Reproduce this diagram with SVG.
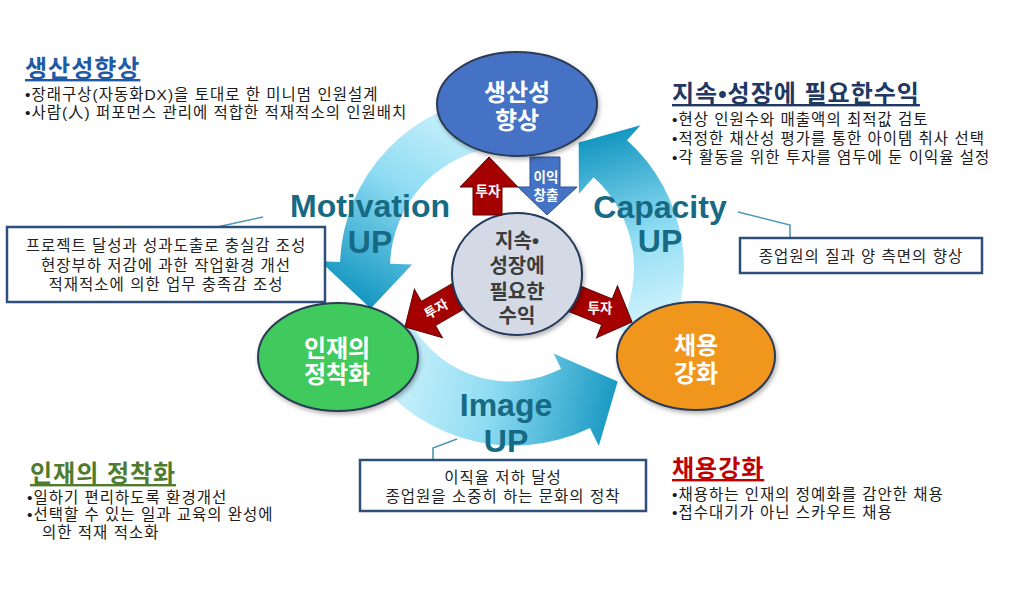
<svg xmlns="http://www.w3.org/2000/svg" width="1024" height="589" viewBox="0 0 1024 589">
<defs>
<style>
.kr{font-family:"Liberation Sans","Noto Sans CJK KR",sans-serif;}
.head{font-size:24px;font-weight:bold;text-decoration:underline;letter-spacing:1px;}
.bul{font-size:15.5px;fill:#1a1a1a;letter-spacing:1px;}
.box{fill:#fff;stroke:#2e4f7a;stroke-width:2.5;}
.boxt{font-size:15.5px;fill:#222;text-anchor:middle;letter-spacing:1px;}
.call{fill:none;stroke:#4f97b6;stroke-width:1.6;}
.lbl{font-family:"Liberation Sans",sans-serif;font-weight:bold;font-size:32px;fill:#176a84;text-anchor:middle;}
.node{stroke:#2c3a55;stroke-width:2;filter:url(#sh);}
.nt{font-size:24px;font-weight:bold;fill:#fff;text-anchor:middle;}
.ct{font-size:20px;font-weight:bold;fill:#3c3c3c;text-anchor:middle;}
.red{fill:#a40000;stroke:#5c0000;stroke-width:1;}
.blu{fill:#4472c4;stroke:#2f4f8f;stroke-width:1;}
.at{font-size:13.5px;font-weight:bold;fill:#fff;text-anchor:middle;}
</style>
<filter id="sh" x="-20%" y="-20%" width="140%" height="150%">
<feDropShadow dx="1.5" dy="2.5" stdDeviation="2" flood-color="#000" flood-opacity="0.3"/>
</filter>
<linearGradient id="gM" gradientUnits="userSpaceOnUse" x1="480" y1="95" x2="360" y2="300">
<stop offset="0" stop-color="#dcf7fe"/><stop offset="0.5" stop-color="#8fdcf3"/><stop offset="1" stop-color="#1597c1"/>
</linearGradient>
<linearGradient id="gC" gradientUnits="userSpaceOnUse" x1="650" y1="340" x2="590" y2="140">
<stop offset="0" stop-color="#dcf7fe"/><stop offset="0.5" stop-color="#8fdcf3"/><stop offset="1" stop-color="#1597c1"/>
</linearGradient>
<linearGradient id="gI" gradientUnits="userSpaceOnUse" x1="370" y1="350" x2="620" y2="400">
<stop offset="0" stop-color="#dcf7fe"/><stop offset="0.5" stop-color="#8fdcf3"/><stop offset="1" stop-color="#1597c1"/>
</linearGradient>
</defs>
<rect width="1024" height="589" fill="#fff"/>

<g id="connectors">
<path id="arrow-motivation" fill="url(#gM)" d="M497,96.7 A172,172 0 0 0 340.1,262 L320.1,261.3 L370.7,308.5 L412.1,264.5 L390.1,263.7 A122,122 0 0 1 501.4,146.5 Z"/>
<path id="arrow-capacity" fill="url(#gC)" d="M660.9,354 A172,172 0 0 0 627.1,140.2 L640.5,125.3 L578.7,142.6 L578.9,193.7 L593.6,177.3 A122,122 0 0 1 617.7,329 Z"/>
<path id="arrow-image" fill="url(#gI)" d="M360.4,355.5 A175,175 0 0 0 590,428 L598.8,446 L617.7,381.4 L553.6,353.4 L561.1,368.7 A112,112 0 0 1 412.4,325.5 Z"/>
<polyline class="call" points="217,227 263,217"/>
<polyline class="call" points="738,212 790,225 790,238"/>
<polyline class="call" points="457,439 433,448 433,460"/>
<g id="invest-left">
<polygon class="red" transform="translate(405,327) rotate(150)" points="-68,-14 -27,-14 -27,-28 0,0 -27,28 -27,14 -68,14"/>
<text class="kr at" transform="translate(436,309) rotate(-30)" x="0" y="5">투자</text>
</g>
<g id="invest-right">
<polygon class="red" transform="translate(632,322) rotate(22)" points="-68,-14 -27,-14 -27,-28 0,0 -27,28 -27,14 -68,14"/>
<text class="kr at" x="600" y="313">투자</text>
</g>
</g>

<g id="node-center">
<ellipse cx="517" cy="274" rx="65" ry="61" fill="#d3dae5" stroke="#24375a" stroke-width="2" filter="url(#sh)"/>
<text class="kr ct" x="517" y="248">지속•</text>
<text class="kr ct" x="517" y="273">성장에</text>
<text class="kr ct" x="517" y="299">필요한</text>
<text class="kr ct" x="517" y="323">수익</text>
</g>

<g id="invest-up">
<polygon class="red" points="489,157 518,187 502,187 502,215 473,215 473,187 460,187"/>
<text class="kr at" x="488" y="196">투자</text>
</g>
<g id="profit-down">
<polygon class="blu" points="530,157 560,157 560,187 577,187 547,215 518,187 530,187"/>
<text class="kr at" x="546" y="182">이익</text>
<text class="kr at" x="546" y="200">창출</text>
</g>

<g id="node-productivity">
<ellipse class="node" cx="517" cy="104" rx="80" ry="52" fill="#4472c4"/>
<text class="kr nt" x="517" y="101">생산성</text>
<text class="kr nt" x="517" y="129">향상</text>
</g>
<g id="node-retention">
<ellipse class="node" cx="338" cy="357" rx="80" ry="54" fill="#40c95c"/>
<text class="kr nt" x="337" y="357">인재의</text>
<text class="kr nt" x="337" y="383">정착화</text>
</g>
<g id="node-recruit">
<ellipse class="node" cx="696" cy="356" rx="79" ry="54" fill="#f0961e"/>
<text class="kr nt" x="696" y="354">채용</text>
<text class="kr nt" x="696" y="382">강화</text>
</g>

<g id="labels">
<text class="lbl" x="370" y="217">Motivation</text>
<text class="lbl" x="370" y="253">UP</text>
<text class="lbl" x="660" y="218">Capacity</text>
<text class="lbl" x="660" y="252">UP</text>
<text class="lbl" x="506" y="416">Image</text>
<text class="lbl" x="506" y="452">UP</text>
</g>

<g id="box-motivation">
<rect class="box" x="7" y="227" width="318" height="75"/>
<text class="kr boxt" x="166" y="251">프로젝트 달성과 성과도출로  충실감 조성</text>
<text class="kr boxt" x="166" y="271">현장부하 저감에 과한 작업환경 개선</text>
<text class="kr boxt" x="166" y="290">적재적소에 의한 업무 충족감 조성</text>
</g>
<g id="box-capacity">
<rect class="box" x="740" y="238" width="242" height="35"/>
<text class="kr boxt" x="861" y="262">종업원의 질과 양 측면의 향상</text>
</g>
<g id="box-image">
<rect class="box" x="360" y="460" width="286" height="51"/>
<text class="kr boxt" x="503" y="483">이직율 저하 달성</text>
<text class="kr boxt" x="503" y="502">종업원을 소중히 하는 문화의 정착</text>
</g>

<g id="text-productivity">
<text class="kr head" x="25" y="77" fill="#1f5aa6">생산성향상</text>
<text class="kr bul" x="25" y="100">•장래구상(자동화DX)을 토대로 한 미니멈 인원설계</text>
<text class="kr bul" x="25" y="118">•사람(人) 퍼포먼스 관리에 적합한 적재적소의 인원배치</text>
</g>
<g id="text-profit">
<text class="kr head" x="672" y="102" fill="#1f3864">지속•성장에 필요한수익</text>
<text class="kr bul" x="672" y="125">•현상 인원수와 매출액의 최적값 검토</text>
<text class="kr bul" x="672" y="144">•적정한 채산성 평가를 통한 아이템 취사 선택</text>
<text class="kr bul" x="672" y="163">•각 활동을 위한 투자를 염두에 둔 이익율 설정</text>
</g>
<g id="text-retention">
<text class="kr head" x="30" y="482" fill="#4f7b2d">인재의 정착화</text>
<text class="kr bul" x="27" y="503">•일하기 편리하도록 환경개선</text>
<text class="kr bul" x="27" y="520">•선택할 수 있는 일과 교육의 완성에</text>
<text class="kr bul" x="42" y="538">의한 적재 적소화</text>
</g>
<g id="text-recruit">
<text class="kr head" x="672" y="477" fill="#c00000">채용강화</text>
<text class="kr bul" x="672" y="500">•채용하는 인재의 정예화를 감안한 채용</text>
<text class="kr bul" x="672" y="518">•접수대기가 아닌 스카우트 채용</text>
</g>
</svg>
